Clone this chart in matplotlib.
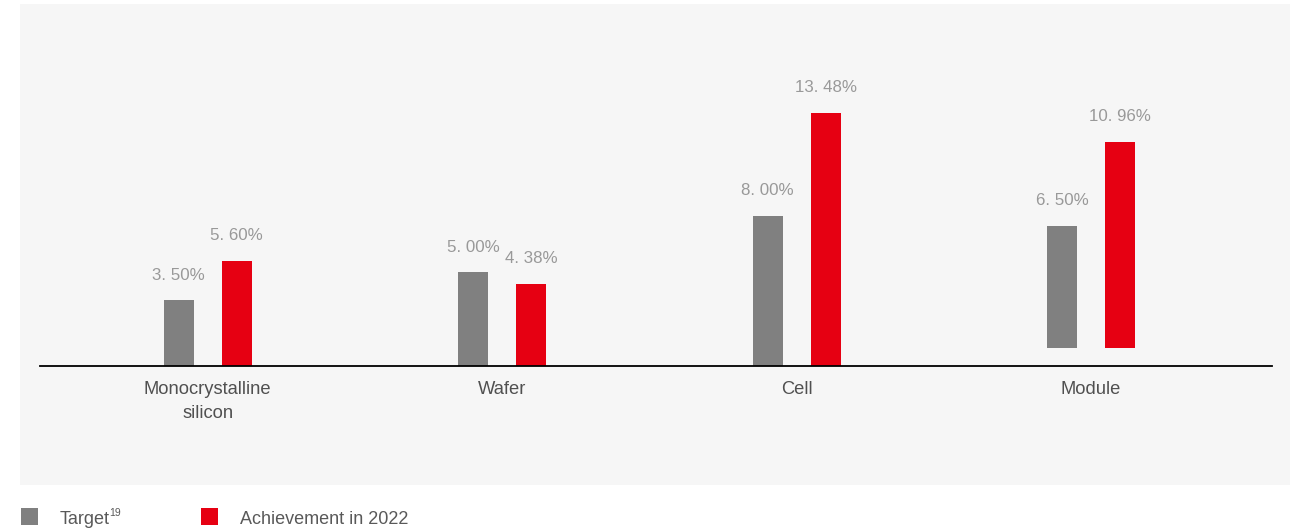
import matplotlib
matplotlib.use("Agg")
import matplotlib.pyplot as plt
from matplotlib.patches import Rectangle
import numpy as np

categories = ["Monocrystalline\nsilicon", "Wafer", "Cell", "Module"]
target = [3.50, 5.00, 8.00, 6.50]
achievement = [5.60, 4.38, 13.48, 10.96]
bar_base = [0.0, 0.0, 0.0, 0.96]
series_names = ["Target", "Achievement in 2022"]

GRAY = "#808080"
RED = "#e60012"
PANEL = "#f6f6f6"

plt.rcParams['font.family'] = ['Liberation Sans', 'DejaVu Sans']

W, H = 1290, 530
fig = plt.figure(figsize=(W / 100, H / 100), dpi=100)
fig.patch.set_facecolor("white")

# background panel
fig.patches.append(Rectangle((20 / W, 1 - 485 / H), 1 - 20 / W, (485 - 4) / H,
                             transform=fig.transFigure, facecolor=PANEL,
                             edgecolor="none", zorder=-5))

ax_left, ax_right = 40, 1272
baseline, ax_top = 366, 30
ax = fig.add_axes([ax_left / W, 1 - baseline / H, (ax_right - ax_left) / W,
                   (baseline - ax_top) / H])
ax.set_facecolor("none")
ax.set_zorder(2)

x = np.arange(len(categories))
width = 0.102
off = 0.0985
ax.bar(x - off, target, width, bottom=bar_base, color=GRAY, zorder=2)
ax.bar(x + off, achievement, width, bottom=bar_base, color=RED, zorder=2)

def fmt(v):
    return f"{v:.2f}".replace(".", ". ") + "%"

for xi, t, a, b in zip(x, target, achievement, bar_base):
    ax.annotate(fmt(t), (xi - off, t + b), xytext=(0, 18), textcoords="offset points",
                ha="center", va="center", fontsize=12.2, color="#999999")
    ax.annotate(fmt(a), (xi + off, a + b), xytext=(0, 18), textcoords="offset points",
                ha="center", va="center", fontsize=12.2, color="#999999")

scale = 18.8  # px per %
ax.set_ylim(0, (baseline - ax_top) / scale)
ax.set_xlim(-0.570, 3.615)

for s in ["top", "right", "left"]:
    ax.spines[s].set_visible(False)
ax.spines["bottom"].set_color("black")
ax.spines["bottom"].set_linewidth(1.3)
ax.set_yticks([])
ax.set_xticks(x)
ax.set_xticklabels(categories, fontsize=13.2, color="#505050", linespacing=1.5)
ax.tick_params(axis="x", length=0, pad=11)

# legend
sq = 17
fig.patches.append(Rectangle((21 / W, 1 - 525 / H), sq / W, sq / H,
                             transform=fig.transFigure, facecolor=GRAY,
                             edgecolor="none"))
fig.patches.append(Rectangle((201 / W, 1 - 525 / H), sq / W, sq / H,
                             transform=fig.transFigure, facecolor=RED,
                             edgecolor="none"))
t1 = fig.text(60 / W, 1 - 519 / H, series_names[0], fontsize=13, color="#595959",
              ha="left", va="center")
fig.canvas.draw()
bb = t1.get_window_extent()
fig.text(bb.x1 / W - 1 / W, 1 - 513 / H, "19", fontsize=7.5, color="#595959",
         ha="left", va="center")
fig.text(240 / W, 1 - 519 / H, series_names[1], fontsize=13, color="#595959",
         ha="left", va="center")

fig.savefig("out.png", dpi=100, facecolor="white")
